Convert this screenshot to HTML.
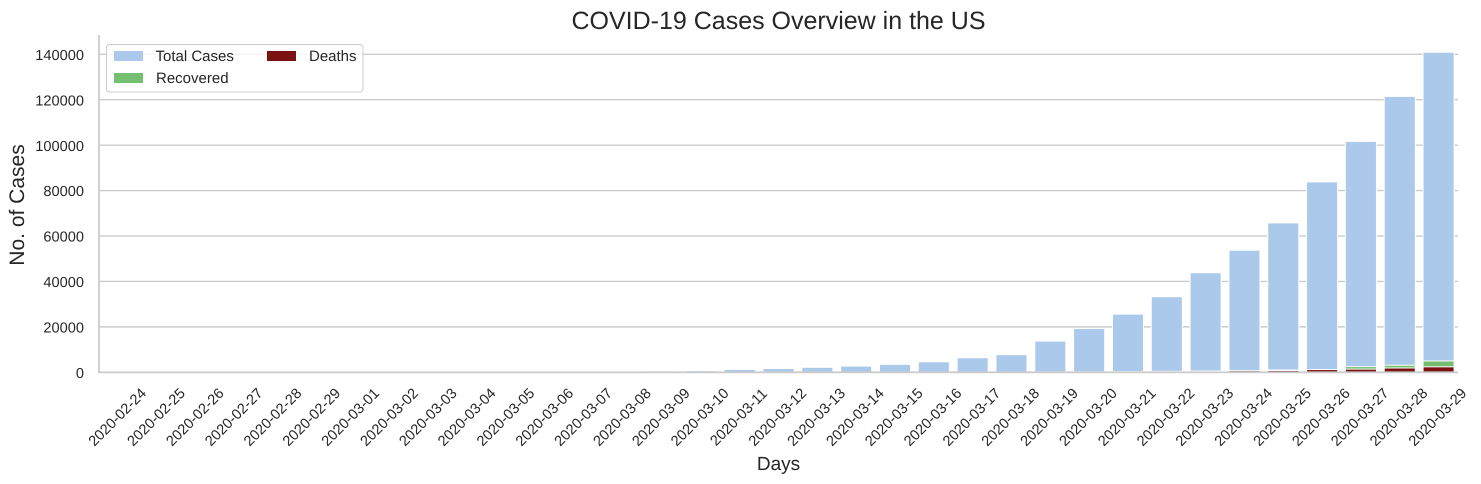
<!DOCTYPE html>
<html>
<head>
<meta charset="utf-8">
<title>COVID-19 Cases Overview in the US</title>
<style>
html,body{margin:0;padding:0;background:#fff;width:1481px;height:484px;overflow:hidden}
svg{display:block}
text{font-family:"Liberation Sans",Arial,sans-serif;fill:#262626;text-rendering:geometricPrecision}
</style>
</head>
<body>
<svg id="chart" width="1481" height="484" viewBox="0 0 1481 484">
  <text x="778.5" y="29" font-size="25" text-anchor="middle">COVID-19 Cases Overview in the US</text>
  <text x="778.5" y="470" font-size="19" text-anchor="middle">Days</text>
  <text transform="translate(24,205) rotate(-90)" font-size="21" text-anchor="middle">No. of Cases</text>
  <g id="grid"></g>
  <g id="bars-total"></g>
  <g id="bars-recovered"></g>
  <g id="bars-deaths"></g>
  <line x1="99" y1="35" x2="99" y2="373" stroke="#cccccc" stroke-width="1.8"/>
  <line x1="98" y1="372.3" x2="1458" y2="372.3" stroke="#cccccc" stroke-width="1.8"/>
  <g id="y-ticks"></g>
  <g id="x-ticks"></g>
  <g>
    <rect x="106.5" y="44.5" width="256.5" height="47.5" rx="3" fill="#ffffff" fill-opacity="0.8" stroke="#cccccc" stroke-width="1"/>
    <rect x="114" y="51" width="29" height="10" fill="#abc9ea"/>
    <text x="155.5" y="61" font-size="15">Total Cases</text>
    <rect x="114" y="73" width="29" height="10" fill="#75bf70"/>
    <text x="156" y="83" font-size="15">Recovered</text>
    <rect x="267" y="51" width="29" height="10" fill="#7a1212"/>
    <text x="309" y="61" font-size="15">Deaths</text>
  </g>
</svg>
<script>
const categories = ["2020-02-24","2020-02-25","2020-02-26","2020-02-27","2020-02-28","2020-02-29","2020-03-01","2020-03-02","2020-03-03","2020-03-04","2020-03-05","2020-03-06","2020-03-07","2020-03-08","2020-03-09","2020-03-10","2020-03-11","2020-03-12","2020-03-13","2020-03-14","2020-03-15","2020-03-16","2020-03-17","2020-03-18","2020-03-19","2020-03-20","2020-03-21","2020-03-22","2020-03-23","2020-03-24","2020-03-25","2020-03-26","2020-03-27","2020-03-28","2020-03-29"];
const totalCases = [51,51,57,58,60,68,74,98,118,149,217,262,402,518,583,700,1281,1663,2179,2727,3499,4632,6421,7783,13747,19273,25600,33276,43847,53740,65778,83836,101657,121465,140909];
const recovered = [5,6,6,6,6,7,7,7,7,7,7,7,7,7,7,8,8,12,12,12,12,17,17,105,121,147,176,178,295,380,1000,1200,2500,3100,5000];
const deaths = [0,0,0,0,0,1,1,6,7,11,12,14,17,21,22,28,36,40,47,54,63,85,108,118,200,244,307,417,557,706,800,1209,1400,1900,2400];
const yTicks = [0,20000,40000,60000,80000,100000,120000,140000];

const NS = "http://www.w3.org/2000/svg";
const plotLeft = 99, plotRight = 1458, zeroY = 372.3, yPerCase = 318 / 140000;
const step = (plotRight - plotLeft) / categories.length;
const barWidth = step * 0.8;
function xScale(i) { return plotLeft + step * (i + 0.5); }
function yScale(v) { return zeroY - v * yPerCase; }

const gridGroup = document.getElementById("grid");
const yTickGroup = document.getElementById("y-ticks");
yTicks.forEach(function (t) {
  const y = yScale(t);
  if (t !== 0) {
    const line = document.createElementNS(NS, "line");
    line.setAttribute("x1", plotLeft);
    line.setAttribute("x2", plotRight);
    line.setAttribute("y1", y);
    line.setAttribute("y2", y);
    line.setAttribute("stroke", "#cccccc");
    line.setAttribute("stroke-width", "1.4");
    
    
    gridGroup.appendChild(line);
  }
  const label = document.createElementNS(NS, "text");
  label.setAttribute("x", 84);
  label.setAttribute("y", y + 5.6);
  label.setAttribute("font-size", "14.6");
  label.setAttribute("text-anchor", "end");
  label.textContent = String(t);
  
  
  yTickGroup.appendChild(label);
});

function drawSeries(groupId, values, color) {
  const group = document.getElementById(groupId);
  values.forEach(function (v, i) {
    const rect = document.createElementNS(NS, "rect");
    rect.setAttribute("x", xScale(i) - barWidth / 2);
    rect.setAttribute("y", yScale(v));
    rect.setAttribute("width", barWidth);
    rect.setAttribute("height", Math.max(0, zeroY - yScale(v)));
    rect.setAttribute("fill", color);
    rect.setAttribute("stroke", "#ffffff");
    rect.setAttribute("stroke-width", "1");
    
    
    group.appendChild(rect);
  });
}
drawSeries("bars-total", totalCases, "#abc9ea");
drawSeries("bars-recovered", recovered, "#75bf70");
drawSeries("bars-deaths", deaths, "#7a1212");

const xTickGroup = document.getElementById("x-ticks");
categories.forEach(function (c, i) {
  const label = document.createElementNS(NS, "text");
  const cx = xScale(i) - 1.2;
  label.setAttribute("transform", "translate(" + cx + ",417) rotate(-45)");
  label.setAttribute("y", 5);
  label.setAttribute("font-size", "14.6");
  label.setAttribute("text-anchor", "middle");
  label.textContent = c;
  
  
  xTickGroup.appendChild(label);
});
</script>
</body>
</html>
